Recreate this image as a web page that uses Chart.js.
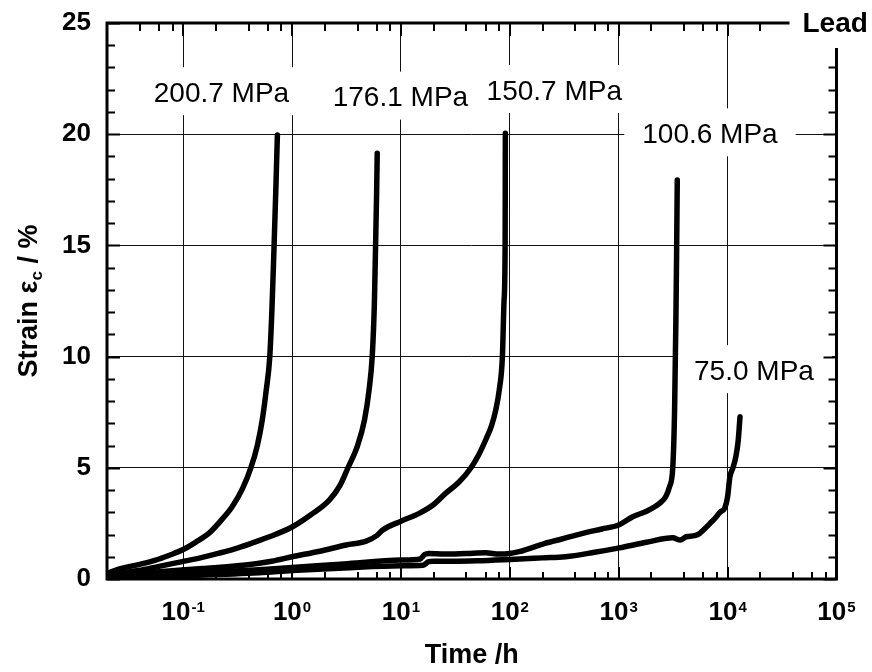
<!DOCTYPE html>
<html>
<head>
<meta charset="utf-8">
<title>Lead creep curves</title>
<script src="https://cdn.jsdelivr.net/npm/chart.js@4.4.1/dist/chart.umd.min.js"></script>
<style>
  html, body { margin: 0; padding: 0; background: #fff; }
</style>
</head>
<body>
<canvas id="creep_lead" width="872" height="672"></canvas>
<script>
// 応力ごとのクリープ曲線データ（時間 h / ひずみ %）
var stressLabels = ["200.7 MPa", "176.1 MPa", "150.7 MPa", "100.6 MPa", "75.0 MPa"];

var time2007 = [0.02, 0.026, 0.04, 0.056, 0.075, 0.098, 0.13, 0.172, 0.22, 0.282, 0.35, 0.418, 0.48, 0.533, 0.58, 0.625, 0.655, 0.684, 0.71, 0.734];
var strain2007 = [0.25, 0.45, 0.66, 0.85, 1.07, 1.3, 1.65, 2.05, 2.6, 3.25, 4.05, 4.98, 6.0, 7.15, 8.5, 10.0, 12.2, 14.94, 17.5, 19.96];

var time1761 = [0.02, 0.039, 0.06, 0.098, 0.15, 0.214, 0.32, 0.467, 0.7, 1.01, 1.5, 2.2, 2.75, 3.25, 4.0, 4.63, 5.1, 5.45, 5.7, 5.85, 5.98, 6.06];
var strain1761 = [0.2, 0.38, 0.57, 0.78, 0.97, 1.16, 1.4, 1.68, 2.0, 2.35, 2.9, 3.55, 4.2, 4.98, 6.0, 7.15, 8.5, 10.0, 12.3, 14.94, 17.3, 19.14];

var time1507 = [0.02, 0.04, 0.069, 0.15, 0.375, 0.65, 1.0, 1.8, 3.14, 4.8, 6.0, 6.8, 10, 14.7, 20, 25.7, 34, 43.7, 52, 60, 68, 74.3, 80, 85.5, 88.5, 90.6, 91.0];
var strain1507 = [0.15, 0.25, 0.35, 0.47, 0.63, 0.8, 1.0, 1.25, 1.53, 1.7, 1.95, 2.2, 2.6, 2.95, 3.35, 3.85, 4.35, 4.98, 5.6, 6.25, 6.9, 7.6, 8.5, 10.0, 12.5, 15.1, 20.04];

var time1006 = [0.02, 0.1, 0.5, 1, 3, 10, 15, 16.5, 18, 25, 40, 60, 80, 100, 122, 210, 300, 466, 700, 1000, 1345, 1800, 2370, 2700, 2930, 3140, 3260, 3350, 3400, 3450];
var strain1006 = [0.12, 0.25, 0.42, 0.52, 0.68, 0.85, 0.9, 1.1, 1.15, 1.12, 1.15, 1.18, 1.12, 1.15, 1.23, 1.6, 1.8, 2.05, 2.25, 2.43, 2.8, 3.05, 3.4, 3.7, 4.15, 5.05, 7.6, 11.6, 14.5, 17.94];

var time750 = [0.02, 0.1, 0.5, 1, 3, 10, 16, 18, 20, 30, 50, 100, 200, 324, 600, 1015, 1800, 3140, 3670, 4170, 5000, 5540, 6900, 7890, 8500, 9440, 10000, 10500, 11200, 11900, 12500, 13000];
var strain750 = [0.05, 0.15, 0.28, 0.38, 0.5, 0.6, 0.62, 0.78, 0.8, 0.8, 0.82, 0.88, 0.95, 1.0, 1.2, 1.4, 1.65, 1.85, 1.75, 1.9, 1.95, 2.05, 2.5, 2.8, 3.0, 3.2, 3.7, 4.6, 5.0, 5.5, 6.2, 7.3];

// 目盛
var timeTicks = [0.1, 1, 10, 100, 1000, 10000, 100000];
var timeTickExp = ["-1", "0", "1", "2", "3", "4", "5"];
var strainTicks = [0, 5, 10, 15, 20, 25];

var seriesTimes = [time2007, time1761, time1507, time1006, time750];
var seriesStrains = [strain2007, strain1761, strain1507, strain1006, strain750];

// ラベルを置く位置（データ座標: 時間, ひずみ）
var labelAt = [[0.225, 21.8], [9.9, 21.6], [256, 21.9], [6890, 19.95], [17460, 9.3]];

var FONT = "'Liberation Sans', Arial, Helvetica, sans-serif";

function toPoints(ts, ss) {
  return ts.map(function (t, i) { return { x: t, y: ss[i] }; });
}

var decor = {
  id: "decor",
  // グリッド線の上に白抜きボックス
  beforeDatasetsDraw: function (chart) {
    var ctx = chart.ctx, x = chart.scales.x, y = chart.scales.y;
    ctx.save();
    ctx.font = "28px " + FONT;
    labelAt.forEach(function (p, i) {
      var cx = x.getPixelForValue(p[0]), cy = y.getPixelForValue(p[1]);
      var w = ctx.measureText(stressLabels[i]).width + 36;
      ctx.fillStyle = "#fff";
      ctx.fillRect(cx - w / 2, cy - 27, w, 48);
    });
    ctx.restore();
  },
  afterDraw: function (chart) {
    var ctx = chart.ctx, a = chart.chartArea, x = chart.scales.x, y = chart.scales.y;
    ctx.save();

    // 応力ラベル
    ctx.fillStyle = "#000";
    ctx.font = "28px " + FONT;
    ctx.textAlign = "center";
    ctx.textBaseline = "middle";
    labelAt.forEach(function (p, i) {
      ctx.fillText(stressLabels[i], x.getPixelForValue(p[0]), y.getPixelForValue(p[1]));
    });

    // 枠
    ctx.strokeStyle = "#000";
    ctx.lineWidth = 3;
    ctx.strokeRect(a.left, a.top, a.right - a.left, a.bottom - a.top);

    // 内向きの目盛
    ctx.lineWidth = 2;
    ctx.beginPath();
    for (var v = 0; v <= 25; v++) {
      var py = Math.round(y.getPixelForValue(v)) + 0.5;
      var len = v % 5 === 0 ? 13 : 8;
      ctx.moveTo(a.left, py); ctx.lineTo(a.left + len, py);
      ctx.moveTo(a.right, py); ctx.lineTo(a.right - len, py);
    }
    for (var d = -2; d <= 4; d++) {
      [1, 2, 4, 6, 8].forEach(function (m) {
        var t = m * Math.pow(10, d);
        if (t < x.min || t > x.max) return;
        var px = Math.round(x.getPixelForValue(t));
        var lb = m === 1 ? 12 : 7, lt = m === 1 ? 13 : 8;
        ctx.moveTo(px, a.bottom); ctx.lineTo(px, a.bottom - lb);
        ctx.moveTo(px, a.top); ctx.lineTo(px, a.top + lt);
      });
    }
    ctx.stroke();

    // 横軸の目盛ラベル 10^n
    ctx.textAlign = "left";
    ctx.textBaseline = "alphabetic";
    timeTicks.forEach(function (t, i) {
      var px = x.getPixelForValue(t);
      ctx.font = "bold 26px " + FONT;
      var wb = ctx.measureText("10").width;
      ctx.font = "bold 15px " + FONT;
      var we = ctx.measureText(timeTickExp[i]).width;
      var x0 = px - (wb + 1 + we) / 2;
      ctx.font = "bold 26px " + FONT;
      ctx.fillText("10", x0, a.bottom + 41);
      ctx.font = "bold 15px " + FONT;
      ctx.fillText(timeTickExp[i], x0 + wb + 1, a.bottom + 33);
    });

    // 縦軸タイトル Strain ε_c / %
    ctx.translate(37, (a.top + a.bottom) / 2);
    ctx.rotate(-Math.PI / 2);
    ctx.font = "bold 27px " + FONT;
    var p1 = "Strain \u03b5", p3 = " / %";
    var w1 = ctx.measureText(p1).width, w3 = ctx.measureText(p3).width;
    ctx.font = "bold 17px " + FONT;
    var w2 = ctx.measureText("c").width;
    var sx = -(w1 + w2 + w3) / 2;
    ctx.font = "bold 27px " + FONT;
    ctx.fillText(p1, sx, 0);
    ctx.fillText(p3, sx + w1 + w2, 0);
    ctx.font = "bold 17px " + FONT;
    ctx.fillText("c", sx + w1, 5);
    ctx.setTransform(1, 0, 0, 1, 0, 0);

    // 右上の材料名
    ctx.fillStyle = "#fff";
    ctx.fillRect(a.right - 47, 0, chart.width - (a.right - 47), 48);
    ctx.fillStyle = "#000";
    ctx.font = "bold 28px " + FONT;
    ctx.textBaseline = "middle";
    ctx.fillText("Lead", a.right - 34, a.top + 1);

    ctx.restore();
  }
};

var ctx = document.getElementById("creep_lead");
var creepChart = new Chart(ctx, {
  type: "line",
  data: {
    datasets: stressLabels.map(function (lab, i) {
      return {
        label: lab,
        data: toPoints(seriesTimes[i], seriesStrains[i]),
        borderColor: "#000",
        borderWidth: 5.5,
        pointRadius: 0,
        fill: false,
        cubicInterpolationMode: "monotone",
        borderJoinStyle: "round",
        borderCapStyle: "round"
      };
    })
  },
  options: {
    responsive: false,
    animation: false,
    devicePixelRatio: 1,
    layout: { padding: { top: 23, right: 35.5, left: 0, bottom: 0 } },
    plugins: { legend: { display: false }, tooltip: { enabled: false } },
    scales: {
      x: {
        type: "logarithmic",
        min: 0.02,
        max: 100000,
        afterBuildTicks: function (s) { s.ticks = timeTicks.map(function (v) { return { value: v }; }); },
        afterFit: function (s) { s.height = 93; s.paddingLeft = 0; s.paddingRight = 0; },
        ticks: { display: false },
        border: { display: false },
        grid: { color: "#111", lineWidth: 1, drawTicks: false },
        title: {
          display: true,
          text: "Time /h",
          color: "#000",
          font: { family: FONT, size: 27, weight: "bold" },
          padding: { top: 0, bottom: 0 }
        }
      },
      y: {
        min: 0,
        max: 25,
        afterBuildTicks: function (s) { s.ticks = strainTicks.map(function (v) { return { value: v }; }); },
        afterFit: function (s) { s.width = 107; s.paddingTop = 0; s.paddingBottom = 0; },
        ticks: {
          color: "#000",
          padding: 16,
          font: { family: FONT, size: 26, weight: "bold" }
        },
        border: { display: false },
        grid: { color: "#111", lineWidth: 1, drawTicks: false }
      }
    }
  },
  plugins: [decor]
});
</script>
</body>
</html>
